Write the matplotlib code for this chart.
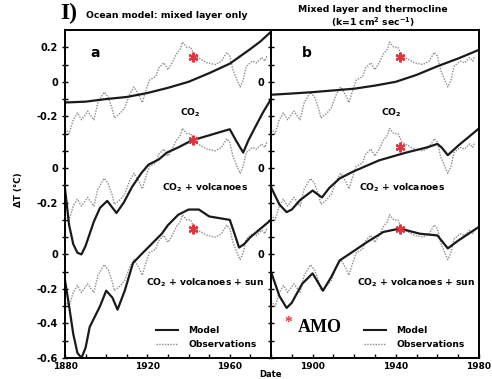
import matplotlib
matplotlib.use("Agg")
import matplotlib.pyplot as plt
import numpy as np

plt.rcParams['font.family'] = ['DejaVu Sans']
plt.rcParams['font.weight'] = 'bold'

# observations (same in every row), anomaly in deg C
obs_years = [1880, 1882, 1884, 1886, 1888, 1891, 1894, 1896, 1899, 1901, 1903, 1904,
             1907, 1909, 1911.5, 1913.5, 1916, 1917.5, 1919, 1921, 1924, 1925.5, 1928,
             1930, 1932, 1934, 1936, 1937, 1939, 1941, 1943, 1946, 1949, 1953, 1956,
             1958.5, 1960, 1961.5, 1963.5, 1965, 1966.5, 1968, 1971, 1973, 1975.5,
             1977, 1978]
obs_vals = [-0.27, -0.30, -0.22, -0.18, -0.22, -0.17, -0.22, -0.12, -0.06, -0.09, -0.16,
            -0.21, -0.18, -0.15, -0.07, -0.03, -0.08, -0.12, -0.06, 0.01, 0.03, 0.08, 0.11,
            0.07, 0.11, 0.16, 0.19, 0.23, 0.20, 0.20, 0.15, 0.13, 0.11, 0.10, 0.12,
            0.17, 0.15, 0.07, 0.01, -0.03, 0.01, 0.09, 0.12, 0.11, 0.14, 0.12, 0.15]

# panel a: mixed layer only
a_co2_years = [1880, 1890, 1900, 1910, 1920, 1930, 1940, 1950, 1960, 1970, 1975, 1980]
a_co2_vals = [-0.12, -0.115, -0.10, -0.088, -0.065, -0.035, 0.0, 0.05, 0.105, 0.19, 0.235, 0.29]

a_volc_years = [1880, 1882, 1884, 1886, 1888, 1890, 1892, 1894, 1897, 1900.5, 1905, 1908.5,
                1912.5, 1917, 1920.5, 1925.5, 1929.5, 1935, 1941.5, 1950, 1958.5, 1960,
                1963, 1966.5, 1969, 1972, 1976, 1980]
a_volc_vals = [-0.12, -0.33, -0.44, -0.49, -0.50, -0.45, -0.38, -0.31, -0.23, -0.19, -0.26,
               -0.20, -0.11, -0.03, 0.02, 0.05, 0.09, 0.12, 0.16, 0.19, 0.22, 0.225,
               0.16, 0.09, 0.16, 0.23, 0.32, 0.40]

a_sun_years = [1880, 1882, 1884, 1886, 1888, 1890, 1892, 1897, 1900, 1903, 1905.5, 1909,
               1913, 1917, 1922, 1927, 1930, 1935, 1940, 1945, 1950, 1955, 1960, 1962,
               1964.5, 1967, 1970, 1975, 1980]
a_sun_vals = [-0.15, -0.30, -0.46, -0.57, -0.60, -0.54, -0.42, -0.30, -0.21, -0.25, -0.32,
              -0.21, -0.05, 0.0, 0.06, 0.12, 0.17, 0.23, 0.26, 0.26, 0.22, 0.21, 0.20, 0.13,
              0.04, 0.06, 0.10, 0.15, 0.20]

# panel b: mixed layer and thermocline
b_co2_years = [1880, 1890, 1900, 1910, 1920, 1930, 1940, 1950, 1960, 1970, 1980]
b_co2_vals = [-0.075, -0.068, -0.06, -0.05, -0.04, -0.022, 0.0, 0.04, 0.09, 0.135, 0.185]

b_volc_years = [1880, 1884, 1887.5, 1890, 1894, 1900, 1904.5, 1908, 1913, 1919.5, 1932,
                1945, 1955, 1960, 1962, 1965, 1970, 1975, 1980]
b_volc_vals = [-0.11, -0.21, -0.255, -0.24, -0.185, -0.13, -0.17, -0.115, -0.06, -0.02,
               0.045, 0.09, 0.12, 0.14, 0.12, 0.075, 0.13, 0.18, 0.23]

b_sun_years = [1880, 1884, 1887.5, 1890, 1895, 1900, 1905, 1909, 1913, 1918, 1926, 1934,
               1942, 1951.5, 1960, 1965, 1970, 1975, 1980]
b_sun_vals = [-0.10, -0.24, -0.31, -0.28, -0.17, -0.11, -0.21, -0.13, -0.035, 0.005, 0.07,
              0.13, 0.15, 0.12, 0.11, 0.035, 0.08, 0.12, 0.16]

# AMO asterisks (year, value) per row
amo_year = 1942
amo_a = [0.145, 0.16, 0.145]
amo_b = [0.145, 0.12, 0.15]

row_offsets = [1.0, 0.5, 0.0]
row_labels = ['CO$_\\mathbf{2}$', 'CO$_\\mathbf{2}$ + volcanoes', 'CO$_\\mathbf{2}$ + volcanoes + sun']

fig = plt.figure(figsize=(4.92, 3.79), dpi=100)
ax_a = fig.add_axes([65/492, 21/379, 206/492, 328/379])
ax_b = fig.add_axes([271/492, 21/379, 208/492, 328/379])

panels = [
    (ax_a, [(a_co2_years, a_co2_vals), (a_volc_years, a_volc_vals), (a_sun_years, a_sun_vals)], amo_a),
    (ax_b, [(b_co2_years, b_co2_vals), (b_volc_years, b_volc_vals), (b_sun_years, b_sun_vals)], amo_b),
]

for ax, models, amo in panels:
    for off, (yrs, vals), av in zip(row_offsets, models, amo):
        ax.plot(obs_years, np.array(obs_vals) + off, color='#8c8c8c', lw=1.0, ls=(0, (1, 1)))
        ax.plot(yrs, np.array(vals) + off, color='#1a1a1a', lw=1.6)
        ax.plot([amo_year], [av + off], marker=(6, 2, 0), ms=7, mew=1.6, color='#e2333f', ls='none')
    ax.set_xlim(1880, 1980)
    ax.set_ylim(-0.6, 1.3)
    ax.set_yticks(np.round(np.arange(-0.6, 1.25, 0.1), 2))
    ax.set_xticks(np.arange(1880, 1981, 10))
    for s in ax.spines.values():
        s.set_linewidth(1.4)
    ax.tick_params(axis='y', direction='inout', length=5, width=1.0, pad=2.5, labelsize=7)
    ax.tick_params(axis='x', direction='in', length=3, width=1.0, pad=3, labelsize=6.5)

def ylabels(ticks, shown):
    return [shown.get(round(t, 1), '') for t in ticks]

ticks = np.round(np.arange(-0.6, 1.25, 0.1), 2)
ax_a.set_yticklabels(ylabels(ticks, {1.2: '0.2', 1.0: '0', 0.8: '-0.2', 0.5: '0', 0.3: '-0.2',
                                     0.0: '0', -0.2: '-0.2', -0.4: '-0.4', -0.6: '-0.6'}))
ax_b.set_yticklabels(ylabels(ticks, {1.0: '0', 0.5: '0', 0.0: '0'}))
xt = np.arange(1880, 1981, 10)
ax_a.set_xticklabels([str(y) if y in (1880, 1920, 1960) else '' for y in xt])
ax_b.set_xticklabels([str(y) if y in (1900, 1940, 1980) else '' for y in xt])

# row labels
for ax, xs in ((ax_a, [0.607, 0.68, 0.68]), (ax_b, [0.58, 0.63, 0.70])):
    for lab, yy, xx in zip(row_labels, [(358-113)/328, (358-188)/328, (358-283)/328], xs):
        ax.text(xx, yy, lab, transform=ax.transAxes, ha='center', va='center', fontsize=6.6)

ax_a.text(0.145, (358-53)/328, 'a', transform=ax_a.transAxes, ha='center', va='center', fontsize=10)
ax_b.text(0.17, (358-53)/328, 'b', transform=ax_b.transAxes, ha='center', va='center', fontsize=10)

for ax, x0 in ((ax_a, 0.437), (ax_b, 0.442)):
    h1, = ax.plot([], [], color='#1a1a1a', lw=1.5)
    h2, = ax.plot([], [], color='#8c8c8c', lw=1.0, ls=(0, (1, 1)))
    ax.legend([h1, h2], ['Model', 'Observations'], loc='lower left',
              bbox_to_anchor=(x0 - 0.03, 0.005), frameon=False, fontsize=6.6,
              handlelength=2.4, handletextpad=1.1, labelspacing=0.55, borderpad=0.3)

ax_b.text(0.083, (358-323)/328, '*', transform=ax_b.transAxes, ha='center', va='center',
          fontsize=11, color='#e2333f', family='Liberation Serif')
ax_b.text(0.13, (358-327)/328, 'AMO', transform=ax_b.transAxes, ha='left', va='center',
          fontsize=13, family='Liberation Serif', weight='bold')

fig.text(167/492, 1 - 16/379, 'Ocean model: mixed layer only', ha='center', va='center', fontsize=6.7)
fig.text(373/492, 1 - 10/379, 'Mixed layer and thermocline', ha='center', va='center', fontsize=6.7)
fig.text(373/492, 1 - 22/379, '(k=1 cm$^\\mathbf{2}$ sec$^\\mathbf{-1}$)', ha='center', va='center', fontsize=6.7)
fig.text(60/492, 1 - 19/379, 'I)', ha='left', va='baseline', fontsize=17,
         family='Liberation Serif', weight='bold')
fig.text(18/492, 1 - 190/379, 'ΔT (°C)', rotation=90, ha='center', va='center', fontsize=6.3)
fig.text(270/492, 0.001, 'Date', ha='center', va='bottom', fontsize=6)

fig.savefig('out.png', dpi=100)
